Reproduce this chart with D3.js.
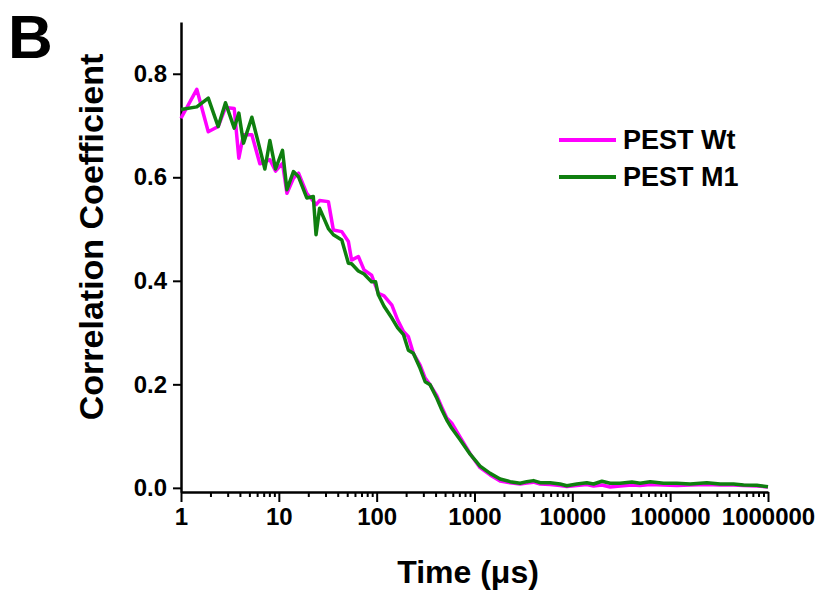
<html>
<head>
<script type="text/javascript" src="https://cdn.jsdelivr.net/npm/d3@7"></script>
<style>
  body { margin: 0; background: #fff; }
  text { font-family: "Liberation Sans", Arial, sans-serif; font-weight: bold; }
</style>
</head>
<body>
<div id="chart"></div>
<script type="text/javascript">

// lag times (microseconds), shared by both curves
var times = [1, 1.45, 1.9, 2.4, 2.85, 3.5, 3.9, 4.35, 5.3, 6.4,
  7.2, 8.1, 9.25, 10.9, 12.1, 14.1, 15.9, 19.3, 22.5, 24,
  26.1, 32.1, 36.1, 44, 51.4, 55.4, 65, 74.3, 88.7, 97.5,
  104, 119, 143, 164, 188, 211, 237, 278, 313, 352,
  412, 463, 521, 586, 713, 902, 1140, 1445, 1827, 2312,
  2925, 3425, 4008, 4690, 5932, 7500, 8790, 11120, 14070, 16470,
  20050, 24380, 30830, 40580, 49340, 62460, 85460, 117200, 160200, 237300,
  324400, 443800, 562000, 769700, 1000000];

var corrWt = [.714, .770, .688, .698, .735, .733, .637, .682, .682, .626,
  .630, .634, .612, .627, .569, .598, .608, .569, .554, .547,
  .555, .553, .498, .495, .476, .440, .447, .421, .411, .390,
  .376, .371, .353, .324, .302, .292, .260, .237, .212, .199,
  .178, .156, .135, .125, .098, .066, .039, .025, .013, .010,
  .0075, .0095, .011, .0075, .0066, .0046, .0027, .0046, .0066, .0037,
  .0056, .0017, .0037, .0056, .0046, .0066, .0056, .0046, .0056, .0066,
  .0056, .0056, .0046, .0037, .0017];

var corrM1 = [.731, .736, .753, .698, .744, .695, .724, .666, .716, .655,
  .616, .671, .616, .652, .576, .611, .601, .560, .563, .489,
  .540, .501, .489, .479, .434, .433, .419, .413, .398, .398,
  .373, .351, .328, .309, .296, .266, .260, .231, .205, .199,
  .173, .151, .131, .115, .093, .065, .042, .028, .017, .012,
  .009, .012, .014, .010, .010, .0075, .0042, .0075, .010, .0075,
  .0128, .0089, .0089, .0114, .0089, .012, .0089, .0089, .0075, .010,
  .0075, .0075, .0056, .005, .0023];

var seriesNames = ["PEST Wt", "PEST M1"];
var seriesColors = ["#ff00ff", "#0f7f0f"];

var xMajor = [1, 10, 100, 1000, 10000, 100000, 1000000];
var yTicks = [0, 0.2, 0.4, 0.6, 0.8];

var width = 820, height = 590;

var svg = d3.select("#chart").append("svg")
  .attr("width", width)
  .attr("height", height);

var x = d3.scaleLog().domain([1, 1000000]).range([181, 768]);
var y = d3.scaleLinear().domain([-0.008, 0.9]).range([492, 22]);

// minor ticks 2..9 in every decade
var xMinor = [];
xMajor.slice(0, -1).forEach(function (d) {
  for (var k = 2; k <= 9; k++) xMinor.push(d * k);
});

var minorAxis = svg.append("g")
  .attr("transform", "translate(0,492)")
  .call(d3.axisBottom(x).tickValues(xMinor).tickFormat("").tickSize(5).tickSizeOuter(0));
minorAxis.select(".domain").remove();

var xAxis = svg.append("g")
  .attr("transform", "translate(0,492)")
  .call(d3.axisBottom(x).tickValues(xMajor).tickFormat(d3.format("d")).tickSize(10).tickSizeOuter(0).tickPadding(6));

var yAxis = svg.append("g")
  .attr("transform", "translate(181,0)")
  .call(d3.axisLeft(y).tickValues(yTicks).tickFormat(d3.format(".1f")).tickSize(8).tickSizeOuter(0).tickPadding(6));

svg.selectAll(".domain").attr("stroke-width", 2.5).attr("stroke", "#000");
svg.selectAll(".tick line").attr("stroke-width", 2).attr("stroke", "#000");
xAxis.selectAll("text").attr("font-size", 24).attr("fill", "#000");
yAxis.selectAll("text").attr("font-size", 24).attr("fill", "#000");

// curves, Wt first so that M1 lies on top
var line = d3.line()
  .x(function (d) { return x(d[0]); })
  .y(function (d) { return y(d[1]); });

[corrWt, corrM1].forEach(function (vals, i) {
  svg.append("path")
    .datum(times.map(function (t, j) { return [t, vals[j]]; }))
    .attr("fill", "none")
    .attr("stroke", seriesColors[i])
    .attr("stroke-width", 3.5)
    .attr("stroke-linejoin", "round")
    .attr("d", line);
});

// legend
var legend = svg.selectAll(".legend")
  .data(seriesNames)
  .enter().append("g")
  .attr("class", "legend")
  .attr("transform", function (d, i) { return "translate(559," + (140 + i * 37) + ")"; });
legend.append("line")
  .attr("x1", 0).attr("x2", 57)
  .attr("stroke", function (d, i) { return seriesColors[i]; })
  .attr("stroke-width", 4);
legend.append("text")
  .attr("x", 64).attr("y", 9)
  .attr("font-size", 27)
  .text(function (d) { return d; });

// titles
svg.append("text")
  .attr("x", 468).attr("y", 583)
  .attr("text-anchor", "middle")
  .attr("font-size", 32)
  .text("Time (\u03bcs)");

svg.append("text")
  .attr("transform", "translate(103,237) rotate(-90)")
  .attr("text-anchor", "middle")
  .attr("font-size", 34)
  .text("Correlation Coefficient");

svg.append("text")
  .attr("x", 8).attr("y", 58)
  .attr("font-size", 62)
  .text("B");

</script>
</body>
</html>
